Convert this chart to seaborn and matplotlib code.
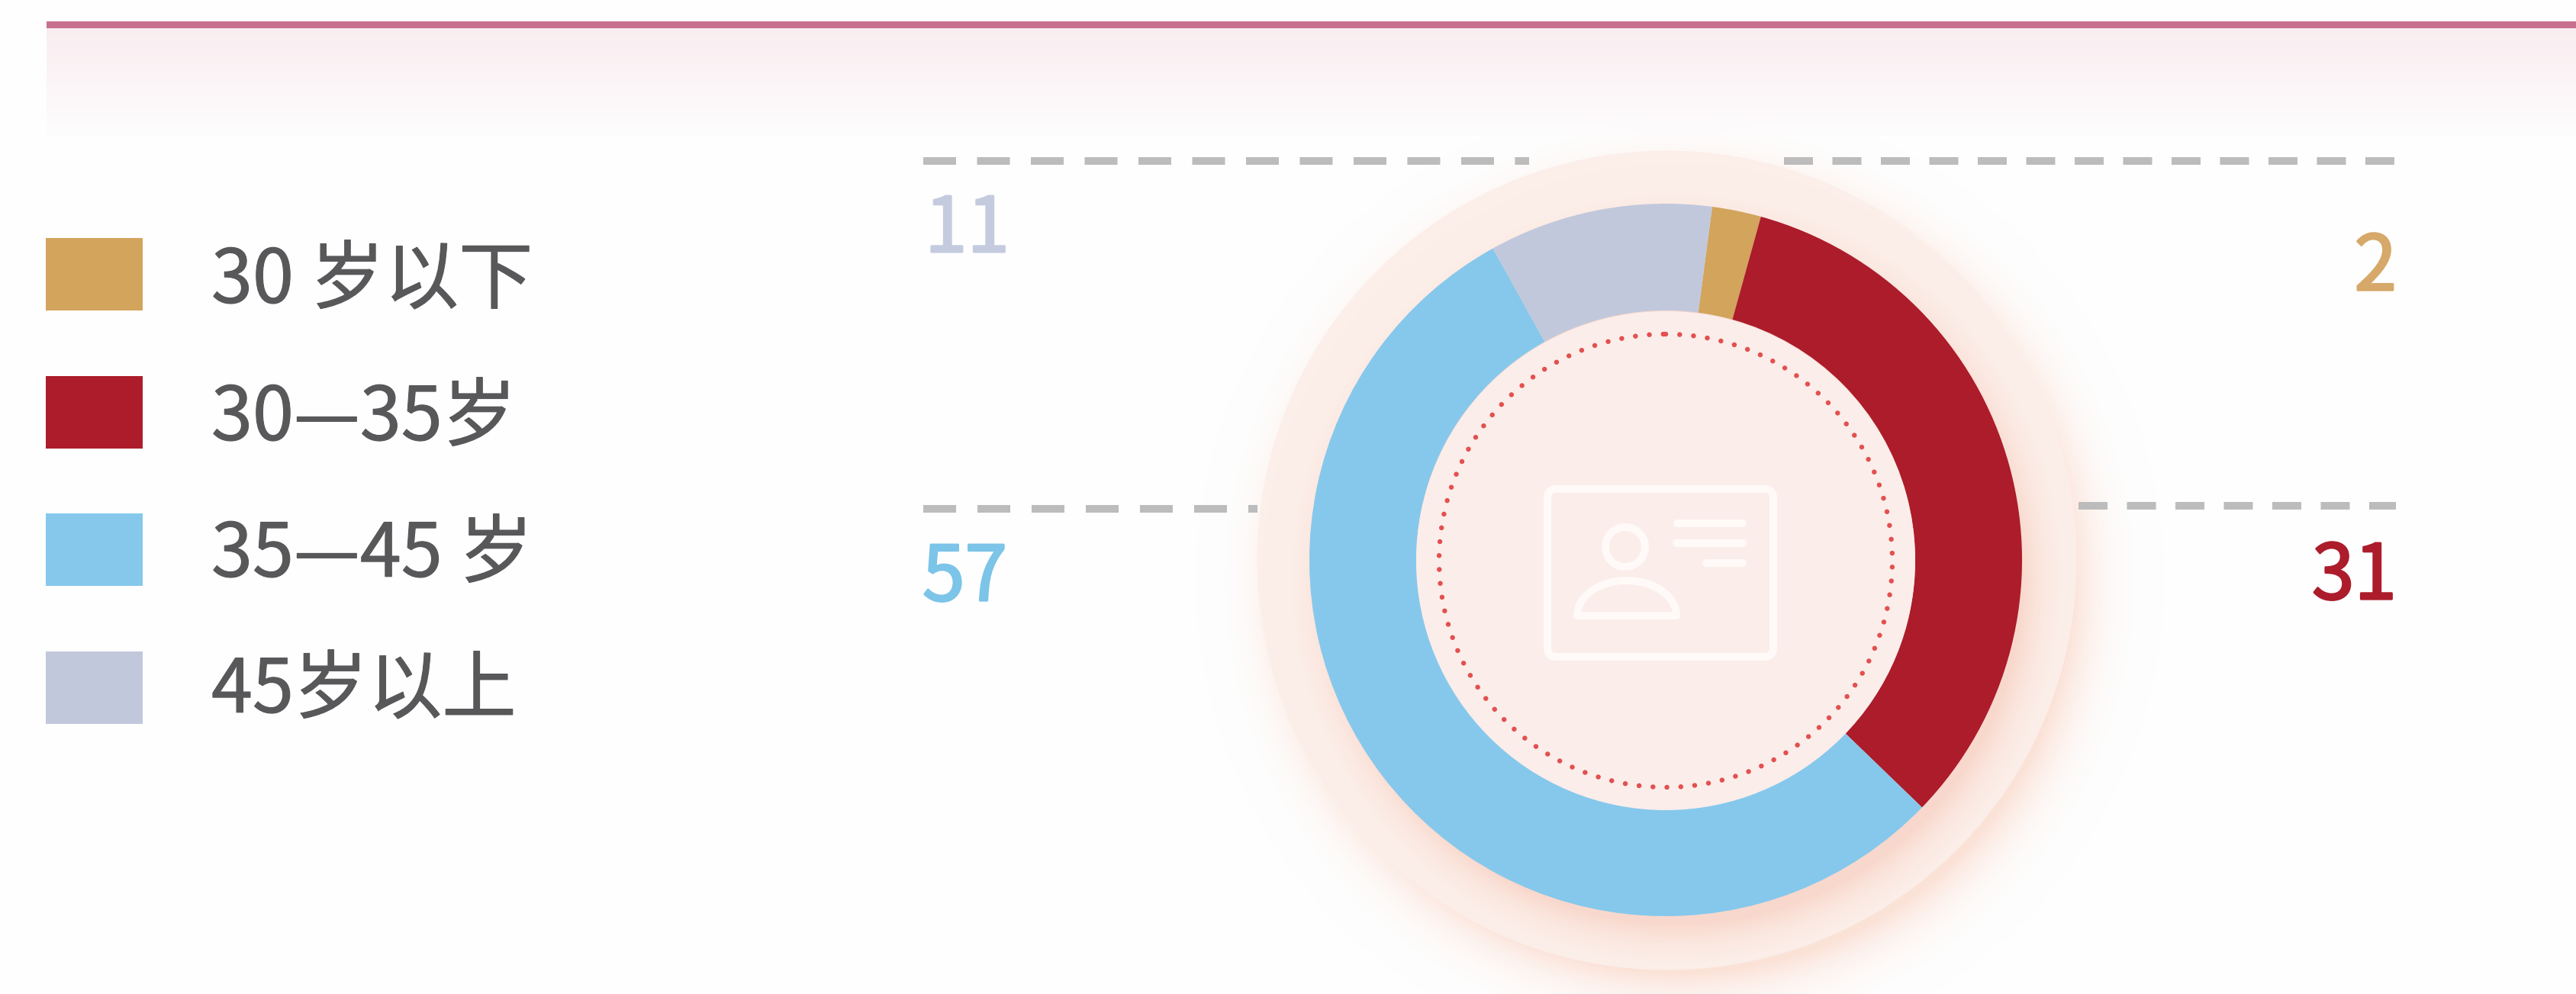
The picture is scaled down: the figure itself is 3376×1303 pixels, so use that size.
import matplotlib
matplotlib.use("Agg")
import matplotlib.pyplot as plt
import matplotlib.patheffects as pe
from matplotlib.patches import Rectangle, Circle, FancyBboxPatch, Arc
import numpy as np
import seaborn as sns

# values printed in the chart
categories = ["30 岁以下", "30—35岁", "35—45 岁", "45岁以上"]
printed_values = [2, 31, 57, 11]
# arc sizes as drawn in the picture (degrees), they do not follow the printed numbers exactly
arc_degrees = [8, 118.5, 197, 36.5]
colors = ["#d2a45c", "#ac1c2b", "#86c8ec", "#c1c8dc"]
value_colors = ["#d6a869", "#ac1c2b", "#7cc4e8", "#c5cbdf"]

W, H = 3376, 1303
CX, CY = 2183, 734
R_OUT, R_IN, R_HALO, R_DOTS = 467, 327, 537, 297
TEXT_GREY = "#58585a"
FONT = ["Noto Sans CJK SC", "DejaVu Sans"]

sns.set_theme(style="white")
plt.rcParams["font.family"] = FONT
palette = sns.color_palette(colors)


def to_arr(c):
    return np.array(matplotlib.colors.to_rgb(c))


def soft_shadow(xx, yy, cx, cy, r, sigma):
    """Blurred disc, 1 inside and fading out past the radius"""
    d = np.hypot(xx - cx, yy - cy) - r
    return np.where(d < 0, 1.0, np.clip(1 - d / (2.4 * sigma), 0, 1) ** 3)


def background():
    """Banner gradient plus the soft shadows round the ring"""
    yy, xx = np.mgrid[0:H, 0:W]
    img = np.ones((H, W, 3)) * to_arr("#fefefe")
    # banner, only below the line
    t = np.clip((yy - 37) / (178 - 37), 0, 1)[..., None]
    banner = (1 - t) * to_arr("#f9edf0") + t * to_arr("#fefdfe")
    img = np.where(((xx >= 61) & (yy >= 37) & (yy < 178))[..., None], banner, img)
    # shadow of the halo, falls to the lower right
    a = 0.8 * soft_shadow(xx, yy, CX + 18, CY + 26, R_HALO - 22, 50)[..., None]
    img = (1 - a) * img + a * to_arr("#fbdccf")
    # halo disc
    d = np.hypot(xx - CX - 1, yy - CY)
    halo = np.clip(R_HALO - d + 0.5, 0, 1)[..., None]
    img = (1 - halo) * img + halo * to_arr("#fcefea")
    # shadow of the ring on the halo
    a = 0.8 * soft_shadow(xx, yy, CX + 14, CY + 24, R_OUT - 14, 38)[..., None]
    img = (1 - a) * img + a * to_arr("#f8d3c5")
    return img


fig = plt.figure(figsize=(W / 100, H / 100), dpi=100)

# everything that is not the donut sits on pixel-sized axes
ax_bg = fig.add_axes([0, 0, 1, 1], zorder=0)
ax_bg.imshow(background(), extent=(0, W, H, 0), interpolation="bilinear", aspect="auto")
ax_bg.set_xlim(0, W)
ax_bg.set_ylim(H, 0)
ax_bg.axis("off")

ax_bg.add_patch(Rectangle((61, 28), W - 61, 9, color="#c9708e", lw=0))


def dashes(x0, x1, y, dash, period):
    ax_bg.plot([x0, x1], [y, y], color="#bcbcbc", lw=10 / 1.389,
               linestyle=(0, (dash / 10, (period - dash) / 10)), dash_capstyle="butt", zorder=1)


dashes(1210, 2004, 211, 43, 70.5)
dashes(2338, 3138, 211, 38, 63.5)
dashes(1210, 1648, 667, 43, 71)
dashes(2724, 3140, 663, 38, 63.5)

# legend
swatch_tops = [312, 493, 673, 854]
text_centers = [358, 538, 717, 895]
for name, col, top, mid in zip(categories, palette, swatch_tops, text_centers):
    ax_bg.add_patch(Rectangle((60, top), 127, 95, color=col, lw=0))
    ax_bg.text(277, mid, name, color=TEXT_GREY, fontsize=70, fontweight="light",
               ha="left", va="center_baseline",
               path_effects=[pe.withStroke(linewidth=0.8, foreground=TEXT_GREY)])

# printed numbers
number_pos = [(3141, 340, "right"), (3141, 745, "right"), (1209, 747, "left"), (1212, 290, "left")]
for val, col, (x, y, ha) in zip(printed_values, value_colors, number_pos):
    ax_bg.text(x, y, str(val), color=col, fontsize=72, fontweight="medium",
               ha=ha, va="center_baseline",
               path_effects=[pe.withStroke(linewidth=2, foreground=col)])

# donut
ax_pie = fig.add_axes([(CX - R_OUT) / W, 1 - (CY + R_OUT) / H, 2 * R_OUT / W, 2 * R_OUT / H], zorder=1)
ax_pie.pie(arc_degrees, colors=palette, startangle=82.5, counterclock=False, radius=1,
           wedgeprops={"width": 1 - R_IN / R_OUT, "linewidth": 0})
ax_pie.set_xlim(-1, 1)
ax_pie.set_ylim(-1, 1)
ax_pie.patch.set_alpha(0)

# centre disc, dots and the id card icon
ax_top = fig.add_axes([0, 0, 1, 1], zorder=2)
ax_top.set_xlim(0, W)
ax_top.set_ylim(H, 0)
ax_top.axis("off")
ax_top.patch.set_alpha(0)
ax_top.add_patch(Circle((CX, CY + 1), R_IN, color="#fbedea", lw=0))
ax_top.add_patch(Circle((CX, CY + 1), R_DOTS, fill=False, edgecolor="#e2504f", lw=6.5 / 1.389,
                        linestyle=(0, (0.01, 2.8)), capstyle="round"))

ICON = "#fffaf7"
LW = 10 / 1.389
ax_top.add_patch(FancyBboxPatch((2028, 641), 296, 220, boxstyle="round,pad=0,rounding_size=12",
                                fill=False, edgecolor=ICON, lw=LW))
ax_top.add_patch(Circle((2130, 717), 26, fill=False, edgecolor=ICON, lw=LW))
ax_top.add_patch(Arc((2132, 807), 130, 92, theta1=180, theta2=360, edgecolor=ICON, lw=LW))
ax_top.plot([2067, 2197], [807, 807], color=ICON, lw=LW, solid_capstyle="round")
for x0, x1, y in [(2198, 2284, 686), (2197, 2284, 712), (2236, 2284, 738)]:
    ax_top.plot([x0, x1], [y, y], color=ICON, lw=LW, solid_capstyle="round")

plt.savefig("out.png", dpi=100)
plt.close()
